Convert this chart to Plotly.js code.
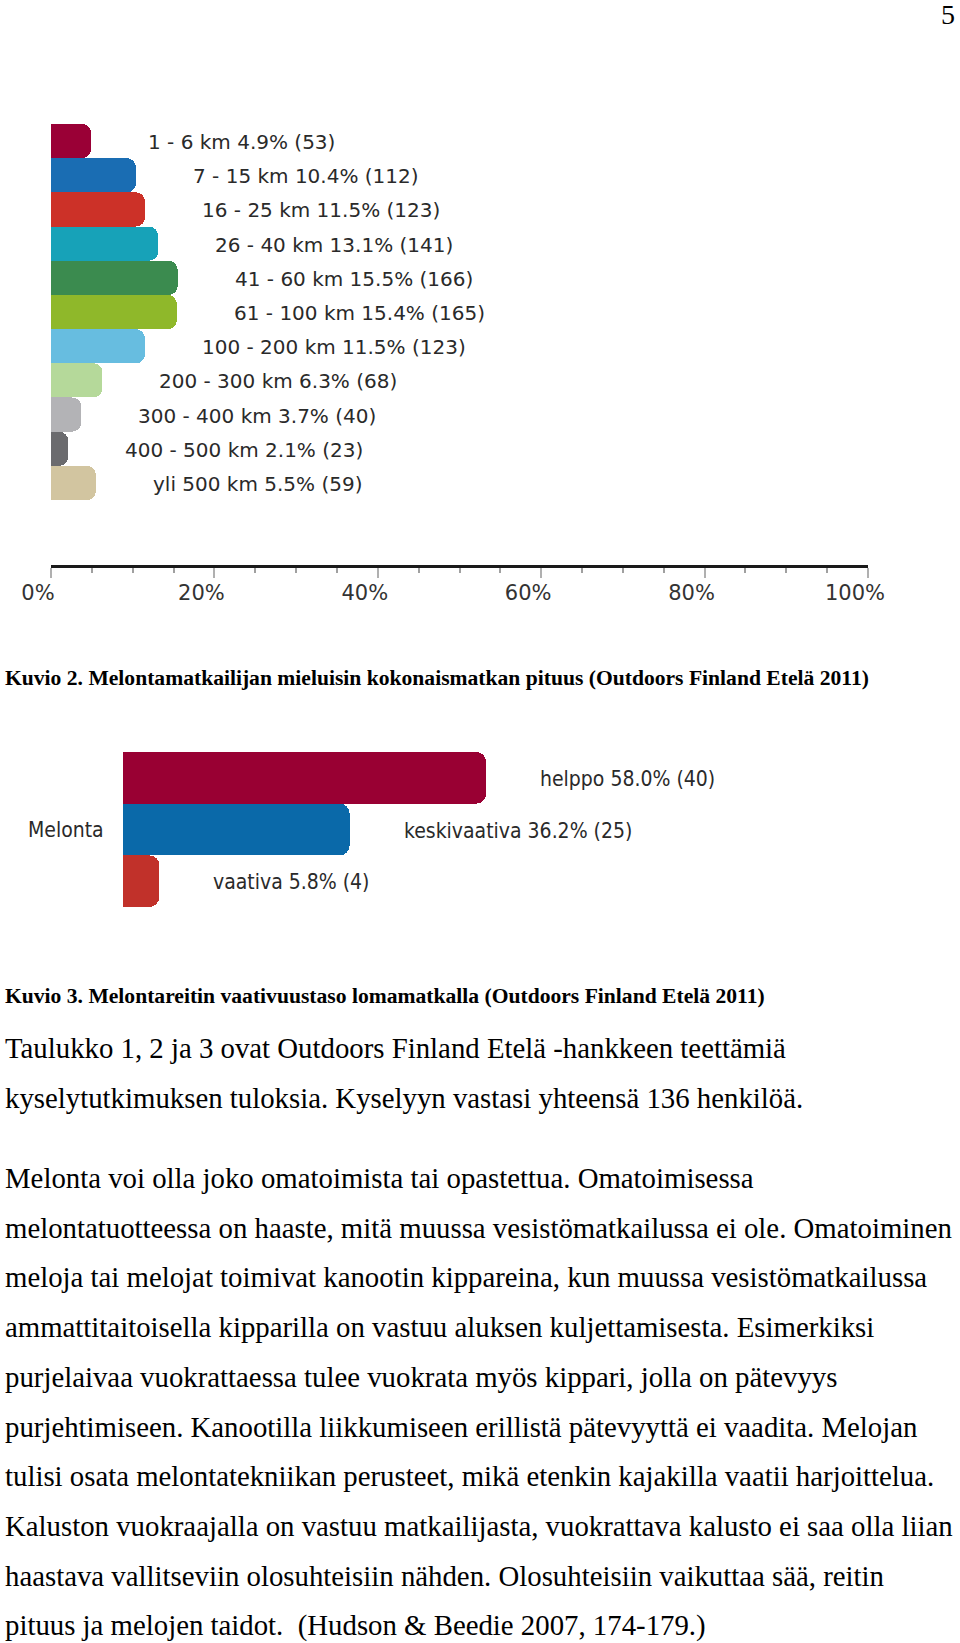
<!DOCTYPE html>
<html>
<head>
<meta charset="utf-8">
<script src="https://cdn.plot.ly/plotly-3.0.1.min.js"></script>
<style>
    body { margin: 0; background: #fff; width: 960px; height: 1643px; position: relative; overflow: hidden; }
    .abs { position: absolute; }
    .chart { position: absolute; left: 0; width: 960px; }
    .pagenum { right: 5px; top: 0px; font: 28px/30px 'Liberation Serif', serif; color: #000; }
    .caption { left: 5px; font: bold 21.6px/30px 'Liberation Serif', serif; color: #000; white-space: nowrap; }
    .body { left: 5px; font: 28.8px/49.7px 'Liberation Serif', serif; color: #000; white-space: nowrap; }
</style>
</head>
<body>
<div class="abs pagenum">5</div>
<div id="chart-distance" class="chart" style="top:0; height:640px;"></div>
<div class="abs caption" style="top:663px;">Kuvio 2. Melontamatkailijan mieluisin kokonaismatkan pituus (Outdoors Finland Etelä 2011)</div>
<div id="chart-difficulty" class="chart" style="top:700px; height:240px;"></div>
<div class="abs caption" style="top:981px;">Kuvio 3. Melontareitin vaativuustaso lomamatkalla (Outdoors Finland Etelä 2011)</div>
<div class="abs body" style="top:1024px;">Taulukko 1, 2 ja 3 ovat Outdoors Finland Etelä -hankkeen teettämiä<br>kyselytutkimuksen tuloksia. Kyselyyn vastasi yhteensä 136 henkilöä.</div>
<div class="abs body" style="top:1154px;">Melonta voi olla joko omatoimista tai opastettua. Omatoimisessa<br>melontatuotteessa on haaste, mitä muussa vesistömatkailussa ei ole. Omatoiminen<br>meloja tai melojat toimivat kanootin kippareina, kun muussa vesistömatkailussa<br>ammattitaitoisella kipparilla on vastuu aluksen kuljettamisesta. Esimerkiksi<br>purjelaivaa vuokrattaessa tulee vuokrata myös kippari, jolla on pätevyys<br>purjehtimiseen. Kanootilla liikkumiseen erillistä pätevyyttä ei vaadita. Melojan<br>tulisi osata melontatekniikan perusteet, mikä etenkin kajakilla vaatii harjoittelua.<br>Kaluston vuokraajalla on vastuu matkailijasta, vuokrattava kalusto ei saa olla liian<br>haastava vallitseviin olosuhteisiin nähden. Olosuhteisiin vaikuttaa sää, reitin<br>pituus ja melojen taidot.&nbsp; (Hudson &amp; Beedie 2007, 174-179.)</div>

<script>
// --- Kuvio 2: preferred total trip length ---
const distCats = ['1 - 6 km', '7 - 15 km', '16 - 25 km', '26 - 40 km', '41 - 60 km', '61 - 100 km',
    '100 - 200 km', '200 - 300 km', '300 - 400 km', '400 - 500 km', 'yli 500 km'];
const distPct = [4.9, 10.4, 11.5, 13.1, 15.5, 15.4, 11.5, 6.3, 3.7, 2.1, 5.5];
const distCount = [53, 112, 123, 141, 166, 165, 123, 68, 40, 23, 59];
const distColors = ['#9a0036', '#1a6db3', '#cc3128', '#17a2b8', '#3b8b4f', '#8fb82a',
    '#67bde0', '#b5d99a', '#b3b3b6', '#6b6b6e', '#d2c5a0'];

// --- Kuvio 3: route difficulty ---
const levelCats = ['helppo', 'keskivaativa', 'vaativa'];
const levelPct = [58.0, 36.2, 5.8];
const levelCount = [40, 25, 4];
const levelColors = ['#990033', '#0a69a9', '#c1312a'];
const groupLabel = 'Melonta';

const CONFIG = { staticPlot: true, displayModeBar: false };
const labelFont = { family: 'DejaVu Sans', size: 20, color: '#2a2a2a' };
const condFont = { family: 'DejaVu Sans Condensed, DejaVu Sans', size: 21, color: '#2a2a2a' };

function label(cat, pct, n) {
    return cat + ' ' + pct.toFixed(1) + '% (' + n + ')';
}

Plotly.newPlot('chart-distance', [{
    type: 'bar',
    orientation: 'h',
    y: distCats,
    x: distPct,
    marker: { color: distColors, cornerradius: 9, line: { width: 0 } },
    hoverinfo: 'none'
}], {
    width: 960,
    height: 640,
    margin: { l: 51, r: 92, t: 124, b: 75 },
    paper_bgcolor: 'rgba(0,0,0,0)',
    plot_bgcolor: 'rgba(0,0,0,0)',
    showlegend: false,
    bargap: 0,
    xaxis: {
        range: [0, 100],
        tick0: 0,
        dtick: 20,
        ticksuffix: '%',
        showgrid: false,
        zeroline: false,
        showline: true,
        linecolor: '#1a1a1a',
        linewidth: 3,
        ticks: 'outside',
        ticklen: 10,
        tickwidth: 2,
        tickcolor: '#b0b0b0',
        ticklabelshift: -13,
        ticklabelstandoff: -3,
        tickfont: { family: 'DejaVu Sans', size: 21, color: '#333' },
        minor: { dtick: 5, ticks: 'outside', ticklen: 5, tickwidth: 2, tickcolor: '#a0a0a0' }
    },
    yaxis: {
        type: 'category',
        categoryarray: distCats,
        range: [12.4, -0.5],
        showticklabels: false,
        showgrid: false,
        zeroline: false,
        showline: false,
        ticks: ''
    },
    annotations: distCats.map((c, i) => ({
        x: distPct[i], y: c,
        xref: 'x', yref: 'y',
        xanchor: 'left', yanchor: 'middle',
        xshift: 55,
        yshift: -1,
        showarrow: false,
        text: label(c, distPct[i], distCount[i]),
        font: labelFont
    }))
}, CONFIG);

Plotly.newPlot('chart-difficulty', [{
    type: 'bar',
    orientation: 'h',
    y: levelCats,
    x: levelPct,
    marker: { color: levelColors, cornerradius: 10, line: { width: 0 } },
    hoverinfo: 'none'
}], {
    width: 960,
    height: 240,
    margin: { l: 123, r: 211, t: 52, b: 33 },
    paper_bgcolor: 'rgba(0,0,0,0)',
    plot_bgcolor: 'rgba(0,0,0,0)',
    showlegend: false,
    bargap: 0,
    xaxis: { range: [0, 100], visible: false },
    yaxis: {
        type: 'category',
        categoryarray: levelCats,
        range: [2.5, -0.5],
        showticklabels: false,
        showgrid: false,
        zeroline: false,
        showline: false,
        ticks: ''
    },
    annotations: levelCats.map((c, i) => ({
        x: levelPct[i], y: c,
        xref: 'x', yref: 'y',
        xanchor: 'left', yanchor: 'middle',
        xshift: 52,
        yshift: -1,
        showarrow: false,
        text: label(c, levelPct[i], levelCount[i]),
        font: condFont
    })).concat([{
        // group label, centred on the middle bar
        x: 0, y: levelCats[1],
        xref: 'paper', yref: 'y',
        xanchor: 'right', yanchor: 'middle',
        xshift: -17,
        showarrow: false,
        text: groupLabel,
        font: condFont
    }])
}, CONFIG);
</script>
</body>
</html>
